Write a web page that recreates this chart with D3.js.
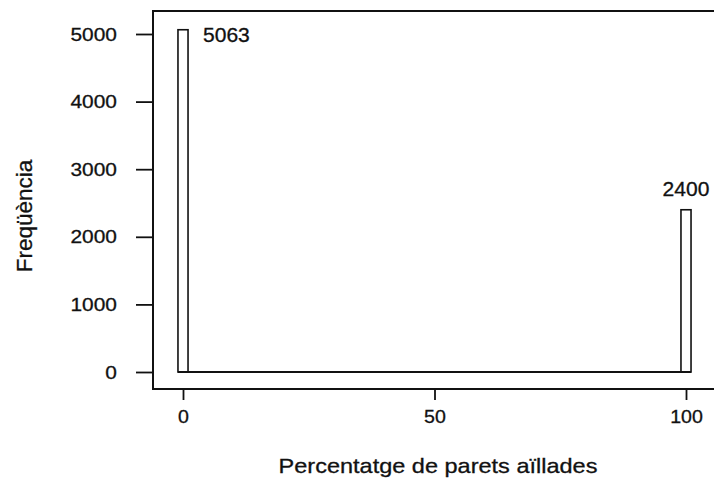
<!DOCTYPE html>
<html>
<head>
<meta charset="utf-8">
<script src="https://cdn.jsdelivr.net/npm/d3@7"></script>
<style>
  html, body { margin: 0; padding: 0; background: #fff; }
  svg { display: block; }
  text { font-family: "Liberation Sans", Arial, Helvetica, sans-serif; fill: #111; stroke: #111; stroke-width: 0.3px; }
</style>
</head>
<body>
<svg id="chart" width="714" height="484"></svg>
<script>
// Histogram of the percentage of insulated walls (bins 2 units wide)
const binCenters = [0, 100];
const counts = [5063, 2400];
const binWidth = 2;
const yTicks = [0, 1000, 2000, 3000, 4000, 5000];
const xTicks = [0, 50, 100];
const xTitle = "Percentatge de parets aïllades";
const yTitle = "Freqüència";

const svg = d3.select("#chart");

const x = d3.scaleLinear().domain([0, 100]).range([183, 686]);
const y = d3.scaleLinear().domain([0, 5000]).range([372, 34]);

const frame = { left: 153, top: 11, bottom: 389 };

// plot frame (open to the right)
svg.append("rect")
  .attr("x", frame.left).attr("y", frame.top)
  .attr("width", 700).attr("height", frame.bottom - frame.top)
  .attr("fill", "none").attr("stroke", "#111").attr("stroke-width", 2);

// bars
svg.append("g").selectAll("rect")
  .data(binCenters.map((c, i) => ({ c, v: counts[i] })))
  .join("rect")
  .attr("x", d => x(d.c - binWidth / 2))
  .attr("width", d => x(d.c + binWidth / 2) - x(d.c - binWidth / 2))
  .attr("y", d => y(d.v))
  .attr("height", d => y(0) - y(d.v))
  .attr("fill", "#fff").attr("stroke", "#111").attr("stroke-width", 1.6);

// zero line joining the empty bins
svg.append("line")
  .attr("x1", x(binCenters[0] - binWidth / 2))
  .attr("x2", x(binCenters[binCenters.length - 1] + binWidth / 2))
  .attr("y1", y(0)).attr("y2", y(0))
  .attr("stroke", "#111").attr("stroke-width", 1.8);

// widen lettering horizontally around its anchor
function widen(sel, k) {
  sel.each(function () {
    const t = d3.select(this);
    const tx = +t.attr("x") || 0;
    const ty = +t.attr("y") || 0;
    t.attr("x", 0).attr("y", 0)
     .attr("transform", `translate(${tx},${ty}) scale(${k},1)`);
  });
}

// y axis
const yAxis = svg.append("g")
  .attr("transform", `translate(${frame.left},0)`)
  .call(d3.axisLeft(y).tickValues(yTicks).tickFormat(d3.format("d"))
    .tickSize(17).tickPadding(19));
yAxis.select(".domain").remove();
yAxis.selectAll(".tick line").attr("stroke", "#111").attr("stroke-width", 1.8);
yAxis.selectAll(".tick text")
  .attr("font-size", 19).attr("font-family", null).attr("fill", "#111")
  .call(widen, 1.1);

// x axis
const xAxis = svg.append("g")
  .attr("transform", `translate(0,${frame.bottom})`)
  .call(d3.axisBottom(x).tickValues(xTicks).tickSize(11).tickPadding(10));
xAxis.select(".domain").remove();
xAxis.selectAll(".tick line").attr("stroke", "#111").attr("stroke-width", 1.8);
xAxis.selectAll(".tick text")
  .attr("font-size", 18.5).attr("font-family", null).attr("fill", "#111")
  .call(widen, 1.06);

// value labels
svg.append("text")
  .attr("x", x(binCenters[0]) + 20).attr("y", y(counts[0]) + 12.5)
  .attr("font-size", 19.5).attr("text-anchor", "start")
  .text(counts[0]).call(widen, 1.08);
svg.append("text")
  .attr("x", x(binCenters[1])).attr("y", y(counts[1]) - 14)
  .attr("font-size", 19.5).attr("text-anchor", "middle")
  .text(counts[1]).call(widen, 1.08);

// axis titles
svg.append("text")
  .attr("x", 438).attr("y", 473)
  .attr("font-size", 21).attr("text-anchor", "middle")
  .text(xTitle).call(widen, 1.12);
svg.append("text")
  .attr("transform", "translate(32,216) rotate(-90)")
  .attr("font-size", 22.5).attr("text-anchor", "middle")
  .text(yTitle);
</script>
</body>
</html>
